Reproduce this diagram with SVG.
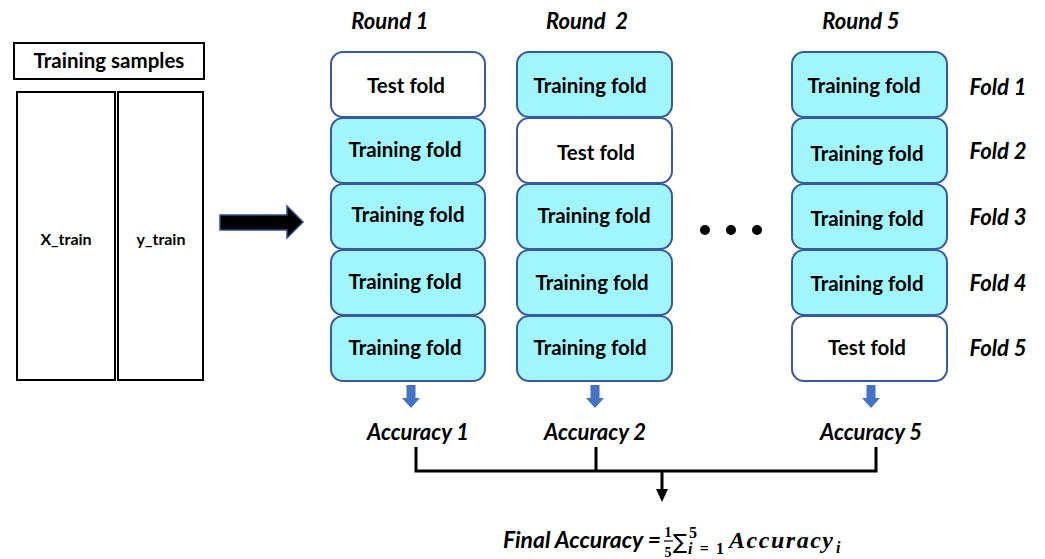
<svg xmlns="http://www.w3.org/2000/svg" width="1045" height="559" viewBox="0 0 1045 559">
<style>
.box{stroke:#000;stroke-width:2;fill:#fff}
.fold{stroke:#3a5a9e;stroke-width:2}
.tr{fill:#a0f6fc}
.te{fill:#fff}
.t{font-family:Lato,"Liberation Sans",sans-serif;font-weight:bold;font-size:20.5px;fill:#000;text-anchor:middle}
.ts{font-family:Lato,"Liberation Sans",sans-serif;font-weight:bold;font-size:20.5px;fill:#000;text-anchor:middle}
.lbl{font-family:Lato,"Liberation Sans",sans-serif;font-weight:bold;font-style:italic;font-size:22px;fill:#000;text-anchor:middle}
.sm{font-family:Lato,"Liberation Sans",sans-serif;font-weight:bold;font-size:16px;fill:#000;text-anchor:middle}
.math{font-family:"Liberation Serif",serif;font-weight:bold;font-style:italic;fill:#000}
.up{font-family:"Liberation Serif",serif;font-weight:bold;font-style:normal;fill:#000}
.blue{fill:#4472c4}
.line{stroke:#000;stroke-width:3;fill:none}
</style>
<defs>
<path id="barrow" d="M-4.5,0 h9 v13 h4.5 l-9,10 l-9,-10 h4.5 z"/>
</defs>

<g id="training-samples">
<rect class="box" x="14" y="43" width="190" height="36"/>
<text class="ts" x="109" y="68">Training samples</text>
</g>
<g id="x-train">
<rect class="box" x="17" y="92" width="98" height="288"/>
<text class="sm" x="66" y="245">X_train</text>
</g>
<g id="y-train">
<rect class="box" x="118" y="92" width="85" height="288"/>
<text class="sm" x="161" y="245">y_train</text>
</g>

<g id="big-arrow">
<path d="M220,215 H287 V206 L303,222 L287,238 V230 H220 Z" fill="#000" stroke="#2f4f8f" stroke-width="1.5"/>
</g>

<g id="round-labels">
<text class="lbl" x="390" y="29">Round 1</text>
<text class="lbl" x="587" y="29" xml:space="preserve">Round  2</text>
<text class="lbl" x="861" y="29">Round 5</text>
</g>

<g id="round1">
<rect class="fold te" x="331" y="52" width="154" height="65" rx="12"/>
<text class="t" x="406" y="93">Test fold</text>
<rect class="fold tr" x="331" y="118" width="154" height="65" rx="12"/>
<text class="t" x="405" y="157">Training fold</text>
<rect class="fold tr" x="331" y="184" width="154" height="65" rx="12"/>
<text class="t" x="408" y="222">Training fold</text>
<rect class="fold tr" x="331" y="250" width="154" height="65" rx="12"/>
<text class="t" x="405" y="289">Training fold</text>
<rect class="fold tr" x="331" y="316" width="154" height="65" rx="12"/>
<text class="t" x="405" y="355">Training fold</text>
</g>

<g id="round2">
<rect class="fold tr" x="517" y="52" width="155" height="65" rx="12"/>
<text class="t" x="590" y="93">Training fold</text>
<rect class="fold te" x="517" y="118" width="155" height="65" rx="12"/>
<text class="t" x="596" y="160">Test fold</text>
<rect class="fold tr" x="517" y="184" width="155" height="65" rx="12"/>
<text class="t" x="594" y="223">Training fold</text>
<rect class="fold tr" x="517" y="250" width="155" height="65" rx="12"/>
<text class="t" x="592" y="290">Training fold</text>
<rect class="fold tr" x="517" y="316" width="155" height="65" rx="12"/>
<text class="t" x="590" y="355">Training fold</text>
</g>

<g id="dots">
<circle cx="705" cy="230" r="5" fill="#000"/>
<circle cx="731" cy="230" r="5" fill="#000"/>
<circle cx="757" cy="230" r="5" fill="#000"/>
</g>

<g id="round5">
<rect class="fold tr" x="792" y="52" width="155" height="65" rx="12"/>
<text class="t" x="864" y="93">Training fold</text>
<rect class="fold tr" x="792" y="118" width="155" height="65" rx="12"/>
<text class="t" x="867" y="161">Training fold</text>
<rect class="fold tr" x="792" y="184" width="155" height="65" rx="12"/>
<text class="t" x="867" y="226">Training fold</text>
<rect class="fold tr" x="792" y="250" width="155" height="65" rx="12"/>
<text class="t" x="867" y="291">Training fold</text>
<rect class="fold te" x="792" y="316" width="155" height="65" rx="12"/>
<text class="t" x="867" y="355">Test fold</text>
</g>

<g id="fold-labels">
<text class="lbl" x="998" y="95">Fold 1</text>
<text class="lbl" x="998" y="159">Fold 2</text>
<text class="lbl" x="998" y="225">Fold 3</text>
<text class="lbl" x="998" y="291">Fold 4</text>
<text class="lbl" x="998" y="356">Fold 5</text>
</g>

<g id="accuracy-arrows">
<use href="#barrow" class="blue" x="411" y="385"/>
<use href="#barrow" class="blue" x="595" y="385"/>
<use href="#barrow" class="blue" x="871" y="385"/>
</g>

<g id="accuracy-labels">
<text class="lbl" x="418" y="440">Accuracy 1</text>
<text class="lbl" x="595" y="440">Accuracy 2</text>
<text class="lbl" x="871" y="440">Accuracy 5</text>
</g>

<g id="connectors">
<path class="line" d="M416,447 V471 M596,447 V471 M876,447 V471 M414.5,471 H877.5 M662,471 V490"/>
<path d="M656,489 H668 L662,502 Z" fill="#000"/>
</g>

<g id="final-accuracy">
<text class="lbl" x="503" y="548" style="text-anchor:start" textLength="158" lengthAdjust="spacingAndGlyphs">Final Accuracy =</text>
<text class="up" x="668" y="537" font-size="14" text-anchor="middle">1</text>
<line x1="664" y1="541" x2="673" y2="541" stroke="#000" stroke-width="1.2"/>
<text class="up" x="668" y="557" font-size="14" text-anchor="middle">5</text>
<text x="673" y="549" font-family="'DejaVu Sans',sans-serif" font-size="21" fill="#000">∑</text>
<text class="up" x="689" y="538" font-size="16">5</text>
<text x="688" y="554" font-size="16" textLength="36" lengthAdjust="spacing"><tspan class="math">i</tspan><tspan class="up">=1</tspan></text>
<text class="math" x="729" y="548" font-size="24" textLength="104" lengthAdjust="spacing">Accuracy</text>
<text class="math" x="836" y="553" font-size="16">i</text>
</g>
</svg>
